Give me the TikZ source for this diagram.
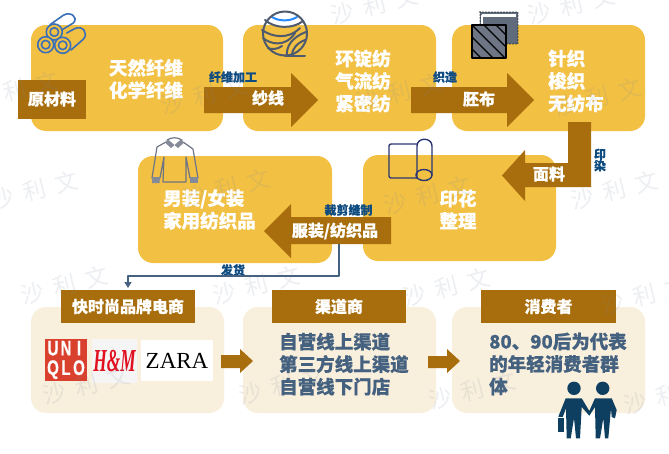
\documentclass[tikz,border=0pt]{standalone}
\usepackage{fontspec}
\setmainfont{Noto Sans CJK SC}[BoldFeatures={FakeBold=0.4}]
\newfontfamily\latinsans{Liberation Sans}[BoldFeatures={FakeBold=0.6}]
\newfontfamily\latinserif{Liberation Serif}
\usetikzlibrary{arrows.meta,calc}
\definecolor{ygold}{HTML}{F2C043}
\definecolor{ylight}{HTML}{F9EFDD}
\definecolor{brownbar}{HTML}{A86D0C}
\definecolor{labelblue}{HTML}{0F4C81}
\definecolor{bodyblue}{HTML}{44617F}
\definecolor{linkblue}{HTML}{44617F}
\definecolor{pipeblue}{HTML}{3B6FB6}
\definecolor{yarngray}{HTML}{4E5A6E}
\definecolor{rollnavy}{HTML}{2B3674}
\definecolor{peoplenavy}{HTML}{0F3F60}
\definecolor{shirtgray}{HTML}{6E7585}
\definecolor{wmark}{HTML}{7F8CA3}
\definecolor{uniqlored}{HTML}{D9412E}
\definecolor{hmred}{HTML}{E0101F}
\tikzset{
  panel/.style={fill=ygold,rounded corners=15pt,inner sep=0pt,outer sep=0pt},
  lightpanel/.style={fill=ylight,rounded corners=15pt,inner sep=0pt,outer sep=0pt},
  bar/.style={fill=brownbar,inner sep=0pt,outer sep=0pt},
  bigtext/.style={text=white,font=\fontsize{18.5}{22.5}\selectfont\bfseries,inner sep=0pt},
  midtext/.style={text=white,font=\fontsize{16}{20}\selectfont\bfseries,inner sep=0pt},
  steplabel/.style={text=labelblue,font=\fontsize{12}{11.5}\selectfont\bfseries,inner sep=0pt},
  bodytext/.style={text=bodyblue,font=\fontsize{18.5}{22.5}\selectfont\bfseries,inner sep=0pt,align=left,anchor=north west},
  brownarrow/.style={fill=brownbar},
  wm/.style={text=wmark,opacity=0.14,rotate=14,inner sep=0pt,font=\fontsize{23}{23}\selectfont},
}
\newcommand{\ul}[1]{\makebox[13pt]{\scalebox{.72}[1]{#1}}}
\begin{document}
\begin{tikzpicture}[x=1pt,y=-1pt,line cap=round,line join=round]
\useasboundingbox (0,0) rectangle (669,453);
\fill[white] (0,0) rectangle (669,453);

% panels
\node[panel,minimum width=192pt,minimum height=106pt] (p1) at (127,78) {};
\node[panel,minimum width=193pt,minimum height=106pt] (p2) at (339.5,78) {};
\node[panel,minimum width=193pt,minimum height=106pt] (p3) at (548.5,78) {};
\node[panel,minimum width=193pt,minimum height=106pt] (p4) at (459.5,208) {};
\node[panel,minimum width=194pt,minimum height=107pt] (p5) at (235,209.5) {};
\node[lightpanel,minimum width=193pt,minimum height=106pt] (p6) at (127.5,360) {};
\node[lightpanel,minimum width=193pt,minimum height=106pt] (p7) at (339.5,360) {};
\node[lightpanel,minimum width=193pt,minimum height=106pt] (p8) at (548.5,360) {};

% big arrows
\fill[brownarrow] (204,87) -- (291,87) -- (291,73) -- (318,100) -- (291,127) -- (291,113) -- (204,113) -- cycle;
\fill[brownarrow] (411,87) -- (507,87) -- (507,73) -- (534,100) -- (507,127) -- (507,113) -- (411,113) -- cycle;
\fill[brownarrow] (568,122) -- (591,122) -- (591,187) -- (525,187) -- (525,201) -- (502,175.5) -- (525,150) -- (525,163) -- (568,163) -- cycle;
\fill[brownarrow] (391,217) -- (291,217) -- (291,204) -- (264,231) -- (291,258) -- (291,244) -- (391,244) -- cycle;
\fill[brownarrow] (221,355) -- (240,355) -- (240,349) -- (253,361) -- (240,373) -- (240,368) -- (221,368) -- cycle;
\fill[brownarrow] (428,356) -- (447,356) -- (447,349) -- (460,361) -- (447,373) -- (447,368) -- (428,368) -- cycle;

% header bars
\node[bar,minimum width=68pt,minimum height=39pt] (raw) at (52,99.5) {};
\node[bar,minimum width=134pt,minimum height=33pt] (h1) at (128,306.5) {};
\node[bar,minimum width=134pt,minimum height=33pt] (h2) at (339,306.5) {};
\node[bar,minimum width=135pt,minimum height=33pt] (h3) at (548.5,306.5) {};

% panel text
\node[bigtext,align=center] (t1) at (146,79) {天然纤维\\化学纤维};
\node[bigtext,align=center] (t2) at (363,81) {环锭纺\\气流纺\\紧密纺};
\node[bigtext,align=left,anchor=west] (t3) at (548,81) {针织\\梭织\\无纺布};
\node[bigtext,align=center] (t4) at (458,209.5) {印花\\整理};
\node[bigtext,align=left,anchor=west] (t5) at (163,209.5) {男装/女装\\家用纺织品};

% bar text
\node[midtext] (rawt) at (52,99) {原材料};
\node[midtext] (yarn) at (268,98) {纱线};
\node[midtext] (greige) at (479,99) {胚布};
\node[midtext] (fabric) at (549,174) {面料};
\node[midtext] (garment) at (335,231) {服装/纺织品};
\node[midtext] (h1t) at (h1) {快时尚品牌电商};
\node[midtext] (h2t) at (h2) {渠道商};
\node[midtext] (h3t) at (h3) {消费者};

% step labels
\node[steplabel] (l1) at (233,77) {纤维加工};
\node[steplabel] (l2) at (445,77) {织造};
\node[steplabel,align=center] (l3) at (600,160) {印\\染};
\node[steplabel] (l4) at (348.5,210) {裁剪缝制};
\node[steplabel] (l5) at (233,270) {发货};

% connector
\coordinate (ship) at (339,244);
\coordinate (bend) at (128,276);
\draw[linkblue,line width=1.4pt,line cap=butt,-{Triangle[length=6pt,width=7pt]},shorten >=2pt] (ship) |- (bend) -- (h1.north);

% bottom text
\node[bodytext] (b2) at (279,332.5) {自营线上渠道\\第三方线上渠道\\自营线下门店};
\node[bodytext] (b3) at (489,332.5) {80、90后为代表\\的年轻消费者群\\体};

% logos
\node[fill=uniqlored,minimum width=42pt,minimum height=42pt,inner sep=0pt,text=white,align=center,
  font=\fontsize{21}{19.5}\selectfont\latinsans\bfseries] (uniqlo) at (66,360) {\ul{U}\ul{N}\ul{I}\\\ul{Q}\ul{L}\ul{O}};
\node[fill=black!4,minimum width=45pt,minimum height=44pt,inner sep=0pt,text=hmred,
  font=\fontsize{32}{32}\selectfont\latinserif\bfseries\itshape] (hm) at (114.5,361) {\scalebox{.54}[1]{H\&M}};
\node[fill=white,minimum width=72pt,minimum height=41pt,inner sep=0pt,text=black,
  font=\fontsize{23}{23}\selectfont\latinserif] (zara) at (177,360.5) {ZARA};

% pipes icon
\begin{scope}[pipeblue,line width=1.6pt]
  \draw (50,24.7) -- (63.3,15.3) .. controls (70,11) and (79,17) .. (73.3,23) -- (61.7,30);
  \draw (66.7,33) -- (75,28.5) .. controls (83,25) and (89,34) .. (83,39.5) -- (71,50);
  \foreach \cx/\cy in {54.3/32,45.7/44.7,62.7/45.3}{
    \filldraw[fill=ygold] (\cx,\cy) circle[radius=8];
    \draw (\cx,\cy) circle[radius=4.3];
  }
\end{scope}

% yarn icon
\begin{scope}[yarngray,line width=2pt]
  \fill[white] (265,20) .. controls (275,29) and (293,29) .. (303,21) .. controls (296,9) and (272,9) .. (265,20) -- cycle;
  \draw[blue!55!cyan!85!white] (272,17) .. controls (279,21.5) and (290,21.5) .. (297,17);
  \draw (285,33.5) circle[radius=22];
  \draw (265,20) .. controls (275,29) and (293,29) .. (303,21);
  \draw (262,30) .. controls (272,37) and (288,40) .. (300,28);
  \draw (263,38) .. controls (270,44) and (285,48) .. (295,33);
  \draw (268,48) .. controls (272,50) and (278,49) .. (282,46);
  \draw (287,55) .. controls (286,47) and (292,37) .. (306,32);
  \draw (292,55) .. controls (292,49) and (297,43) .. (305,40);
  \draw (285,55.5) -- (305,55.5);
\end{scope}

% fabric icon
\fill[yarngray!90!white] (480,12) rectangle (518,44);
\draw[white,line width=2.4pt,line cap=butt] (482,15.5) -- (516,15.5);
\draw[white,line width=2pt,line cap=butt] (482,15) -- (482,24);
\draw[black,line width=1.2pt,dash pattern=on 0pt off 3pt] (480,12) -- (518,12) -- (518,44) -- (506,44);
\draw[black,line width=1.2pt,dash pattern=on 0pt off 3pt] (480,12) -- (480,25);
\begin{scope}
  \clip (472,25) rectangle (506,58);
  \fill[shirtgray] (472,25) rectangle (506,58);
  \foreach \d in {-36,-24,...,36}{
    \draw[black,line width=1.1pt] (472+\d,25) -- (505+\d,58);
  }
\end{scope}
\draw[black,line width=1.2pt] (472,25) rectangle (506,58);

% roll icon
\begin{scope}[rollnavy,line width=1.4pt]
  \draw[rounded corners=2pt] (417,144) -- (389,144) -- (389,178) -- (417,178);
  \draw (417,178) -- (417,146) .. controls (417,137) and (432,137) .. (432,146) -- (432,175);
  \draw (424,175) ellipse[x radius=8,y radius=5.5];
\end{scope}

% shirt icon
\begin{scope}[line width=1.2pt,draw=shirtgray]
  \draw (166,142) -- (157,147) -- (152,178) -- (160,178) -- (164,157) -- (163,182) -- (186,182) -- (186,157) -- (190,178) -- (198,178) -- (193,149) -- (183,142);
  \draw (167,140) .. controls (172,137) and (177,137) .. (182,140);
  \fill[shirtgray!85!white] (167.5,139) -- (174.5,145) -- (171,148) -- (165.5,143) -- cycle;
  \fill[shirtgray!85!white] (181.5,139) -- (174.5,145) -- (178,148) -- (183.5,143) -- cycle;
  \fill[shirtgray!85!white] (152,177) -- (160,177) -- (159.5,183) -- (152,183) -- cycle;
  \fill[shirtgray!85!white] (190,177) -- (198,177) -- (198,183) -- (190,183) -- cycle;
\end{scope}

% people icon
\fill[peoplenavy] (574,388.3) circle[radius=6.7];
\fill[peoplenavy] (602.7,388.3) circle[radius=6.7];
\fill[peoplenavy] (565.7,398.3) -- (581.7,398.3) -- (589.3,411) -- (595,398.3) -- (611.7,398.3) -- (616.7,410) -- (615,418.3) -- (611.7,417) -- (611,408.3) -- (608.3,438.3) -- (605,438.3) -- (603.3,418.3) -- (600,438.3) -- (595.7,438.3) -- (595,407) -- (589.3,415.7) -- (581.7,407) -- (580,438.3) -- (576,438.3) -- (574,418.3) -- (570.7,438.3) -- (566.7,438.3) -- (566,408.3) -- (562.7,417) -- (558.3,416.7) -- cycle;
\fill[peoplenavy] (558.3,418.3) rectangle (564,431.7);

% watermark
\foreach \wx/\wy/\wn in {375/5/a,572/5/b,15/90/c,205/95/d,400/92/e,598/97/f,35/190/g,227/188/h,428/195/i,615/190/j,65/285/k,257/285/l,447/287/m,645/295/n,87/385/o,283/385/p,473/390/q,668/395/r}{
  \node[wm] (wm\wn) at (\wx,\wy) {沙\hspace{10pt}利\hspace{10pt}文};
}
\end{tikzpicture}
\end{document}
